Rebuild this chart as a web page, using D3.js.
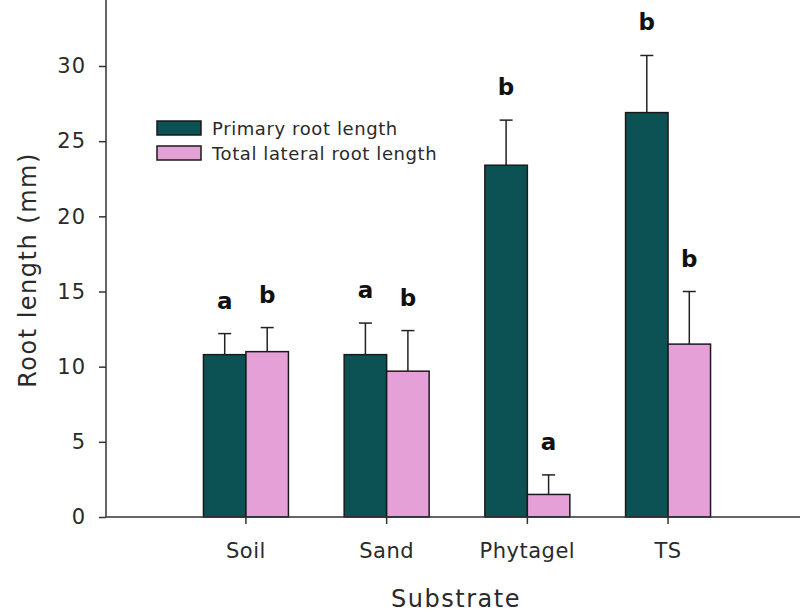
<!DOCTYPE html>
<html>
<head>
<meta charset="utf-8">
<script src="https://cdn.jsdelivr.net/npm/d3@7"></script>
<style>
  html, body { margin: 0; padding: 0; background: #fff; }
  svg text { font-family: "DejaVu Sans", Verdana, sans-serif; fill: #2a2a2a; }
</style>
</head>
<body>
<svg id="chart" width="800" height="613"></svg>
<script>
// Root length by growth substrate (mean + SE), with significance letters
const substrates = ["Soil", "Sand", "Phytagel", "TS"];
const seriesNames = ["Primary root length", "Total lateral root length"];
const primaryMean = [10.8, 10.8, 23.4, 26.9];
const primaryErr  = [1.4, 2.1, 3.0, 3.8];
const lateralMean = [11.0, 9.7, 1.5, 11.5];
const lateralErr  = [1.6, 2.7, 1.3, 3.5];
const primaryLetters = ["a", "a", "b", "b"];
const lateralLetters = ["b", "b", "a", "b"];
const yTicks = [0, 5, 10, 15, 20, 25, 30];
const colors = ["#0c5254", "#e5a0d8"];

const svg = d3.select("#chart");
const axisLeftX = 106, axisBottomY = 517;

const y = d3.scaleLinear().domain([0, 30]).range([axisBottomY, 66]);
const x0 = d3.scaleBand().domain(substrates).range([175.6, 738.4])
  .paddingInner(0.396).paddingOuter(0.198);
const x1 = d3.scaleBand().domain(seriesNames).range([0, x0.bandwidth()]).padding(0);

const rows = substrates.map((s, i) => ({
  substrate: s,
  items: [
    { name: seriesNames[0], mean: primaryMean[i], err: primaryErr[i], letter: primaryLetters[i], color: colors[0] },
    { name: seriesNames[1], mean: lateralMean[i], err: lateralErr[i], letter: lateralLetters[i], color: colors[1] }
  ]
}));

const groups = svg.append("g").selectAll("g").data(rows).join("g")
  .attr("transform", d => `translate(${x0(d.substrate)},0)`);

// error bars (drawn first so bars sit on top of the stem base)
const capHalf = 6.5;
groups.selectAll("g.err").data(d => d.items).join("g").attr("class", "err")
  .each(function(d) {
    const g = d3.select(this);
    const cx = x1(d.name) + x1.bandwidth() / 2;
    g.append("line").attr("x1", cx).attr("x2", cx)
      .attr("y1", y(d.mean)).attr("y2", y(d.mean + d.err))
      .attr("stroke", "#222").attr("stroke-width", 1.5);
    g.append("line").attr("x1", cx - capHalf).attr("x2", cx + capHalf)
      .attr("y1", y(d.mean + d.err)).attr("y2", y(d.mean + d.err))
      .attr("stroke", "#222").attr("stroke-width", 1.5);
  });

groups.selectAll("rect").data(d => d.items).join("rect")
  .attr("x", d => x1(d.name))
  .attr("width", x1.bandwidth())
  .attr("y", d => y(d.mean))
  .attr("height", d => y(0) - y(d.mean))
  .attr("fill", d => d.color)
  .attr("stroke", "#1a1a1a").attr("stroke-width", 1.5);

// significance letters
groups.selectAll("text.letter").data(d => d.items).join("text").attr("class", "letter")
  .attr("x", d => x1(d.name) + x1.bandwidth() / 2)
  .attr("y", d => y(d.mean + d.err) - 25)
  .attr("text-anchor", "middle")
  .attr("font-size", 23).attr("font-weight", "bold")
  .style("fill", "#111")
  .text(d => d.letter);

// y axis
const yAxis = svg.append("g").attr("transform", `translate(${axisLeftX},0)`)
  .call(d3.axisLeft(y).tickValues(yTicks).tickSize(7).tickPadding(13).tickFormat(d3.format("d")));
yAxis.select(".domain").attr("d", `M0,${axisBottomY}V0`).attr("stroke", "#333").attr("stroke-width", 1.5);
yAxis.selectAll(".tick line").attr("stroke", "#333").attr("stroke-width", 1.5);
yAxis.selectAll(".tick text").attr("font-size", 21).attr("font-family", "DejaVu Sans")
  .attr("letter-spacing", 1).style("fill", "#2a2a2a");

// x axis
const xAxis = svg.append("g").attr("transform", `translate(0,${axisBottomY})`)
  .call(d3.axisBottom(x0).tickSize(7).tickPadding(19));
xAxis.select(".domain").attr("d", `M${axisLeftX},0H800`).attr("stroke", "#333").attr("stroke-width", 1.5);
xAxis.selectAll(".tick line").attr("stroke", "#333").attr("stroke-width", 1.5);
xAxis.selectAll(".tick text").attr("font-size", 21).attr("font-family", "DejaVu Sans")
  .attr("letter-spacing", 0.5).style("fill", "#2a2a2a");

// axis titles
svg.append("text").attr("transform", "translate(36,270) rotate(-90)")
  .attr("text-anchor", "middle").attr("font-size", 24).attr("letter-spacing", 1.5)
  .text("Root length (mm)");
svg.append("text").attr("x", 456).attr("y", 607)
  .attr("text-anchor", "middle").attr("font-size", 24).attr("letter-spacing", 1.5)
  .text("Substrate");

// legend
const legend = svg.append("g").attr("transform", "translate(157,121)");
seriesNames.forEach((name, i) => {
  const g = legend.append("g").attr("transform", `translate(0,${i * 25})`);
  g.append("rect").attr("width", 44).attr("height", 14)
    .attr("fill", colors[i]).attr("stroke", "#1a1a1a").attr("stroke-width", 1.5);
  g.append("text").attr("x", 55).attr("y", 14).attr("font-size", 18)
    .attr("letter-spacing", 0.6).text(name);
});
</script>
</body>
</html>
